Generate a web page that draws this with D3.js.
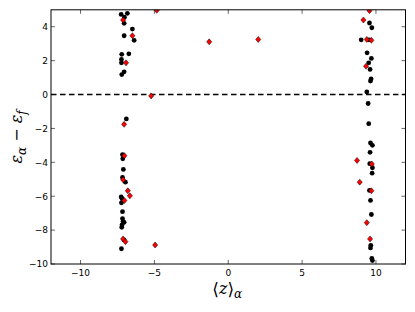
<!DOCTYPE html>
<html><head><meta charset="utf-8">
<script src="https://cdn.jsdelivr.net/npm/d3@7"></script>
<style>body{margin:0;background:#fff}svg{display:block}</style>
</head><body>
<script>
// black circles (z, eps)
const blackX = [-7.25,-6.83,-7.03,-7.05,-7.05,-6.49,-6.37,-7.21,-6.73,-7.23,-7.23,-7.05,-7.21,-6.9,
  -7.16,-7.14,-7.1,-7.16,-6.96,-7.25,-7.19,-7.23,-7.16,-7.16,-7.12,-7.05,-7.19,-7.21,-7.05,-7.23,
  9.56,9.72,9.0,9.54,9.4,9.69,9.51,9.6,9.67,9.63,9.38,9.47,9.51,
  9.63,9.76,9.6,9.58,9.76,9.74,9.56,9.63,9.69,9.65,9.63,9.72,9.76];
const blackY = [4.73,4.79,4.56,4.2,3.47,3.86,3.2,2.37,2.4,2.07,1.87,1.34,1.18,-1.44,
  -3.55,-3.79,-4.42,-4.89,-5.17,-6.04,-6.15,-6.39,-6.91,-7.32,-7.48,-7.54,-7.69,-7.83,-8.58,-9.1,
  4.22,3.94,3.23,3.23,2.46,2.13,1.87,1.48,0.92,0.8,0.15,-0.53,-1.72,
  -2.86,-3.0,-3.41,-4.08,-4.32,-4.64,-5.66,-6.25,-7.08,-8.9,-9.05,-9.67,-9.8];
// red diamonds (z, eps)
const redX = [-7.12,-6.49,-6.92,-4.84,-5.22,-7.05,-1.29,2.03,
  -7.03,-7.12,-6.8,-6.66,-7.03,-7.12,-6.96,-4.95,
  9.56,9.15,9.38,9.69,9.33,8.72,9.72,8.9,9.69,9.38,9.6];
const redY = [4.40,3.47,1.87,4.97,-0.08,-1.76,3.11,3.25,
  -3.61,-5.03,-5.68,-5.98,-6.25,-8.52,-8.68,-8.88,
  4.95,4.4,3.25,3.2,1.67,-3.89,-4.1,-5.17,-5.68,-7.56,-8.52];
const xTicks = [-10,-5,0,5,10];
const yTicks = [-10,-8,-6,-4,-2,0,2,4];

const W=415,H=312;
const svg=d3.select("body").append("svg").attr("width",W).attr("height",H);
const x=d3.scaleLinear().domain([-12,12]).range([51,405.5]);
const y=d3.scaleLinear().domain([-10,5]).range([264,9.8]);
const fmt=d=>d<0?"\u2212"+Math.abs(d):String(d);

svg.append("clipPath").attr("id","c").append("rect")
  .attr("x",x(-12)).attr("y",y(5)).attr("width",x(12)-x(-12)).attr("height",y(-10)-y(5));

// zero line
svg.append("line").attr("x1",x(-12)).attr("x2",x(12)).attr("y1",y(0)).attr("y2",y(0))
  .attr("stroke","#000").attr("stroke-width",1.5).attr("stroke-dasharray","5.5,3.5");

const g=svg.append("g").attr("clip-path","url(#c)");
g.selectAll("circle").data(blackX.map((v,i)=>[v,blackY[i]])).join("circle")
  .attr("cx",d=>x(d[0])).attr("cy",d=>y(d[1])).attr("r",2.4).attr("fill","#000");
const s=3.0;
g.selectAll("path.r").data(redX.map((v,i)=>[v,redY[i]])).join("path").attr("class","r")
  .attr("d",d=>{const cx=x(d[0]),cy=y(d[1]);return `M${cx},${cy-s}L${cx+s*0.85},${cy}L${cx},${cy+s}L${cx-s*0.85},${cy}Z`;})
  .attr("fill","#ff0000").attr("stroke","#000").attr("stroke-width",0.5);

// frame
svg.append("rect").attr("x",x(-12)).attr("y",y(5)).attr("width",x(12)-x(-12)).attr("height",y(-10)-y(5))
  .attr("fill","none").attr("stroke","#000").attr("stroke-width",1);

// ticks
const tk=svg.append("g").attr("stroke","#000").attr("stroke-width",0.6);
xTicks.forEach(t=>{
  tk.append("line").attr("x1",x(t)).attr("x2",x(t)).attr("y1",y(-10)).attr("y2",y(-10)-4);
  tk.append("line").attr("x1",x(t)).attr("x2",x(t)).attr("y1",y(5)).attr("y2",y(5)+4);
});
yTicks.forEach(t=>{
  tk.append("line").attr("y1",y(t)).attr("y2",y(t)).attr("x1",x(-12)).attr("x2",x(-12)+4);
  tk.append("line").attr("y1",y(t)).attr("y2",y(t)).attr("x1",x(12)).attr("x2",x(12)-4);
});
const lab=svg.append("g").attr("font-family","DejaVu Sans").attr("font-size",9).attr("fill","#000");
xTicks.forEach(t=>lab.append("text").attr("x",x(t)).attr("y",y(-10)+11.5).attr("text-anchor","middle").text(fmt(t)));
yTicks.forEach(t=>lab.append("text").attr("x",x(-12)-3).attr("y",y(t)+3.3).attr("text-anchor","end").text(fmt(t)));

// axis labels
const xl=svg.append("text").attr("x",x(0)-1).attr("y",295).attr("text-anchor","middle")
  .attr("font-family","DejaVu Serif").attr("font-size",16);
xl.append("tspan").attr("font-size",17).text("\u27E8");
xl.append("tspan").attr("font-style","italic").attr("dy",-1).text("z");
xl.append("tspan").attr("font-size",17).attr("dy",1).text("\u27E9");
xl.append("tspan").attr("font-style","italic").attr("font-size",12).attr("dy",3).text("\u03B1");

const yl=svg.append("text").attr("transform",`translate(22,${(y(5)+y(-10))/2}) rotate(-90)`)
  .attr("text-anchor","middle").attr("font-family","DejaVu Serif").attr("font-size",16);
yl.append("tspan").attr("font-style","italic").text("\u03B5");
yl.append("tspan").attr("font-style","italic").attr("font-size",12).attr("dy",4).text("\u03B1");
yl.append("tspan").attr("dy",-4).text(" \u2212 ");
yl.append("tspan").attr("font-style","italic").text("\u03B5");
yl.append("tspan").attr("font-style","italic").attr("font-size",12).attr("dy",4).text("f");
</script>
</body></html>
